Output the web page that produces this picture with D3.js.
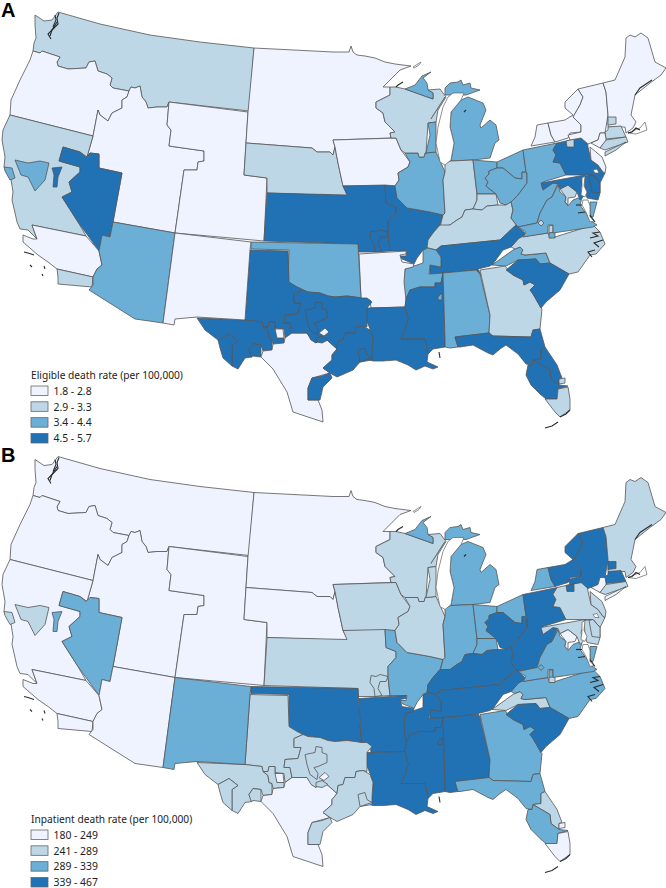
<!DOCTYPE html>
<html><head><meta charset="utf-8">
<script src="https://cdn.jsdelivr.net/npm/d3@7"></script>
<style>html,body{margin:0;padding:0;background:#fff}svg{display:block}text{font-family:"Noto Sans",sans-serif;fill:#222}</style>
</head><body><svg id="c" width="666" height="888"></svg>
<script>
// Class colours and legends
const palette = ["#eff3ff","#bdd7e7","#6baed6","#2171b5"];
const panelLetters = ["A","B"];
const legendTitles = ["Eligible death rate (per 100,000)","Inpatient death rate (per 100,000)"];
const legendLabelsA = ["1.8 - 2.8","2.9 - 3.3","3.4 - 4.4","4.5 - 5.7"];
const legendLabelsB = ["180 - 249","241 - 289","289 - 339","339 - 467"];

// Regions (map units), class in A, class in B, outline
const regionNames = ["wamt","or","idut","wyco","dakmn","nebr","iowa","ksmo","mo2","moe","ilw","wi","upw","upe","mil","mi","in","ine","cin","oh1","oh2","ky","ncw","nc","nc2","nc3","tn","memph","ar","ms","mss","la","al","ga","sc","fl","fl2","fl4","fl5","fl3","ok","tx1","tx2","tx2a","tx2b","tx3","txw","stx","tx4","tx5","tx6","tx7","tx8","tx9","tx10","ncal","nev","nev2","sac","sf","scal","sd","az","nm","pawv","va","vac","dc","phil","pa2","md","del","vaes","nj","nyw","nyc","vtny","me","box1","ma","ct","cte","li","del2"];
const classA = [1,0,0,0,0,1,0,3,3,3,2,1,2,2,2,2,1,2,1,2,2,1,2,1,1,2,3,2,0,3,2,3,2,1,3,3,3,3,1,1,2,3,3,3,3,3,0,0,3,3,0,3,3,3,3,1,3,3,2,2,0,1,2,0,2,2,1,1,3,1,3,3,2,0,0,0,0,0,1,1,0,1,1,3];
const classB = [0,0,0,0,0,0,1,1,1,2,1,1,2,2,1,2,2,2,2,2,3,3,1,2,2,1,3,3,3,3,3,3,3,2,3,2,1,2,0,0,3,1,1,1,1,1,0,0,1,1,0,1,1,1,1,0,2,2,1,1,0,0,0,2,3,2,2,0,1,3,1,1,2,1,2,3,3,1,3,3,0,1,0,1];
const outlines = [
"35,15 44,21 52,20 58,12 100,24 150,35 200,42 254,48 249,111 169,102 167,107 157,107 148,108 146,102 142,97 140,86 135,88 131,87 129,91 113,88 110,85 112,78 107,74 98,71 95,61 89,62 86,68 68,69 58,66 57,62 60,57 42,51 40,53 33,51 34,43 36,38 35,25",
"33,51 40,53 42,51 60,57 57,62 58,66 68,69 86,68 89,62 95,61 98,71 107,74 112,78 110,85 113,88 129,91 127,97 122,100 122,108 112,113 108,121 100,115 98,110 93,136 10,115 11,100 20,80 30,60",
"129,91 131,87 135,88 140,86 142,97 146,102 148,108 157,107 167,107 169,102 167,125 171,130 169,146 204,151 204,161 198,162 197,170 184,170 175,233 113,222 122,173 99,168 99,154 90,153 87,157 93,136 98,110 100,115 108,121 112,113 122,108 122,100 127,97",
"169,102 248,112 246,143 244,175 267,178 264,241 175,233 184,170 197,170 198,162 204,161 204,151 169,146 171,130 167,125",
"254,48 333,52 349,52 351,46 353,52 357,55 365,56 375,58 385,62 395,64 411,66 400,70 390,80 383,87 390,87 390,95 376,102 376,108 383,113 385,122 395,132 390,133 391,138 333,140 335,147 333,155 330,152 317,152 312,148 246,143 248,112",
"246,143 312,148 317,152 330,152 333,155 335,147 338,163 343,186 348,196 267,193 267,178 244,175",
"333,140 396,138 401,150 410,162 408,167 398,173 399,180 395,186 343,186 338,163 335,147",
"267,193 347,195 343,186 385,185 386,203 396,207 396,213 388,222 388,232 390,251 375,252 358,252 358,244 264,241",
"371,231 376,232 380,230 388,232 386,237 380,237 378,244 382,251 375,252 374,244 370,238",
"385,185 395,186 397,198 407,208 413,209 430,212 443,215 440,225 433,233 428,240 427,248 423,250 417,258 414,264 402,259 399,256 406,256 407,251 390,251 388,232 388,222 396,213 396,207 386,203",
"405,153 418,153 419,157 424,157 425,153 436,152 441,163 445,172 443,180 445,213 443,215 430,212 413,209 407,208 397,198 395,186 399,180 398,173 408,167 410,162",
"390,87 396,87 405,89 433,99 433,93 428,90 440,89 446,97 438,110 436,122 428,123 426,153 425,153 424,157 419,157 418,153 405,153 401,150 396,138 391,138 390,133 395,132 385,122 383,113 376,108 376,102 390,95",
"405,89 415,85 422,76 431,72 423,78 427,83 428,90 433,93 433,99",
"445,88 450,83 458,82 461,80 463,85 470,83 471,88 480,90 466,95 448,95 445,95",
"428,123 436,122 436,135 436,152 426,153 430,135",
"468,97 483,103 486,110 480,125 481,128 490,120 496,125 499,140 495,143 490,158 473,160 451,161 454,143 450,127 451,112 461,100",
"445,163 451,161 473,160 477,194 477,200 473,209 465,210 462,217 457,220 450,225 440,227 443,215 445,213 443,180 445,172",
"473,160 497,162 497,168 489,171 489,174 485,178 488,182 486,186 491,190 496,194 477,194",
"477,194 496,194 498,205 487,206 482,210 473,209 477,200",
"497,162 523,150 526,172 522,172 522,179 515,178 503,168 497,168",
"489,171 497,168 503,168 515,178 522,179 522,172 527,173 527,183 518,195 511,202 506,205 500,203 498,198 496,194 491,190 486,186 488,182 485,178 489,174",
"440,225 450,225 457,220 462,217 465,210 473,209 482,210 487,206 498,205 506,205 511,202 513,210 511,218 518,227 516,225 500,240 441,246 436,250 428,248 427,248 428,240 433,233",
"492,265 513,250 515,249 520,247 523,250 521,254 525,255 546,253 550,263 540,264 536,259 518,260 506,266",
"520,237 548,233 550,238 555,237 593,225 600,232 605,244 596,254 590,255 578,272 569,274 550,263 546,253 525,255 521,254 523,250 520,247 515,249 511,247 518,239",
"549,226 553,225 553,233 549,233",
"549,233 555,232 555,238 549,238",
"441,246 500,240 516,225 526,234 518,239 511,247 503,250 493,264 490,266 478,269 481,275 476,270 443,273 430,274 430,265 441,267 441,257 436,250",
"405,269 423,263 423,250 428,248 436,250 441,257 441,267 430,265 429,274 443,273 441,283 435,283 435,287 420,287 410,290 406,299 403,285",
"359,254 406,251 406,254 400,255 402,262 414,264 413,267 405,269 404,282 406,300 405,307 371,308 370,300 361,299",
"406,299 410,290 420,287 435,287 435,283 441,283 443,273 445,339 445,347 433,349 428,354 425,339 401,339 405,330 408,319 405,307",
"438,297 442,293 442,300 438,300",
"367,308 405,307 408,319 405,330 401,339 425,339 428,354 427,362 438,367 433,369 425,366 416,370 408,365 396,360 383,361 373,361 370,360 373,339 370,329 366,319",
"443,273 476,270 480,274 490,315 489,333 455,337 458,347 450,348 445,347 445,339",
"480,270 505,266 513,275 523,280 524,285 530,282 535,285 530,290 533,294 541,308 542,309 540,329 533,330 531,337 493,336 489,333 490,315",
"506,270 518,260 536,259 540,264 550,263 569,274 560,290 546,302 541,308 533,294 530,290 535,285 530,282 524,285 523,280 513,275",
"455,337 489,333 493,336 531,337 533,330 540,329 545,347 541,349 541,359 533,360 532,365 526,364 518,354 506,345 500,349 493,355 488,353 473,345 460,347 458,347",
"541,349 545,347 557,365 562,378 559,379 559,385 551,379 550,370 533,360 541,359",
"528,365 532,365 533,360 550,370 551,379 559,385 568,386 558,389 557,399 546,399 540,394 531,385 526,375",
"558,389 568,387 570,399 570,410 560,417 555,412 545,399 557,399",
"559,379 565,378 565,383 559,384",
"251,242 358,244 361,298 355,297 347,296 335,297 328,296 320,293 308,292 297,287 288,283 289,250 251,249",
"250,250 288,251 289,282 297,287 303,290 294,294 294,303 301,303 298,314 285,315 284,323 290,323 292,333 285,338 284,329 275,328 275,322 269,322 268,327 263,327 262,322 245,320",
"197,318 245,320 262,322 263,327 268,331 269,338 272,339 272,350 263,351 261,345 253,344 249,350 252,357 245,358 238,369 232,366 232,345 238,341 229,334 218,340 205,330",
"218,340 229,334 238,341 232,345 232,366 223,358 220,348",
"249,350 253,344 261,345 261,357 253,356 251,357",
"263,327 268,327 269,322 275,322 275,329 277,329 277,338 284,338 284,343 273,344 272,339 269,338 268,331",
"275,329 283,329 284,338 277,338",
"261,357 263,351 272,350 273,344 284,343 285,338 292,333 307,333 312,340 316,343 322,336 327,340 337,349 332,355 332,360 323,368 330,373 312,378 308,388 308,400 318,400 322,410 323,422 293,412 287,392 273,369 263,359",
"294,294 303,290 308,292 320,293 328,296 335,297 347,296 355,297 361,298 367,298 372,302 367,308 367,327 363,326 356,327 355,333 345,333 343,340 338,341 337,349 327,340 322,336 316,343 311,340 307,333 292,333 290,323 284,323 285,315 298,314 301,303 294,303",
"305,310 315,308 316,302 322,303 322,308 327,310 327,318 318,322 314,323 318,329 317,335 310,330 307,320",
"319,333 325,328 329,332 324,336",
"316,338 322,336 328,340 322,343 316,342",
"337,349 338,341 343,340 345,333 355,333 356,327 363,326 370,330 373,338 372,352 372,360 360,362 353,370 337,377 330,373 323,368 332,360 332,355",
"358,350 365,348 367,355 372,358 360,362",
"312,378 322,376 330,373 332,378 323,387 320,400 308,400 308,388",
"10,115 93,136 87,157 80,152 63,147 59,161 80,167 80,172 69,182 72,192 62,197 78,222 86,236 32,225 37,239 28,230 20,229 17,222 15,213 12,200 13,192 10,173 4,167 5,157 2,140 3,130",
"63,147 80,152 86,157 90,153 99,154 99,168 122,173 113,222 110,237 102,235 99,251 78,222 62,197 72,192 69,182 80,172 80,167 59,161",
"52,168 62,167 58,177 57,187 53,187 54,175",
"15,160 28,163 40,161 49,163 45,180 35,191 28,177 21,175",
"4,167 12,168 15,178 10,180 5,171",
"32,225 86,236 99,251 102,265 97,269 93,277 57,269 48,262 38,255 23,242 23,235 33,239 37,239",
"57,269 93,277 92,287 58,284 58,277",
"113,222 175,233 163,323 135,319 89,290 93,285 93,277 97,269 102,265 99,251 102,235 110,237",
"175,233 251,242 250,250 245,320 197,317 175,319 174,325 163,323",
"523,150 557,143 553,150 556,155 553,162 560,163 566,175 543,182 542,188 553,183 556,182 558,183 552,197 547,200 540,213 537,223 518,227 511,218 513,210 511,202 518,195 527,183 527,173 526,172",
"547,200 552,197 558,185 560,192 566,197 565,202 568,206 573,200 578,198 582,198 580,205 585,212 588,216 590,220 597,225 593,227 553,233 553,225 548,225 548,233 523,237 526,232 518,227 537,223 540,213",
"538,223 541,220 544,223 541,226",
"560,189 568,185 577,192 575,197 568,198 568,205 565,202 566,197",
"566,141 575,139 587,137 588,147 591,160 598,165 603,172 605,173 600,183 593,175 566,175 560,163 553,162 556,155 553,150 557,143",
"566,141 574,139 574,147 567,147",
"541,183 585,175 583,182 581,188 584,196 580,200 577,192 568,185 560,189 558,184 553,183 543,190",
"584,176 593,175 600,183 600,193 598,200 587,198 585,190",
"590,202 597,202 593,217 590,217",
"590,147 602,157 606,167 605,173 603,172 598,165 591,160",
"531,146 535,137 537,125 548,123 551,135 555,142",
"548,123 565,120 573,115 565,108 565,102 578,89 583,97 580,105 573,117 581,125 581,132 570,133 568,138 555,142 551,135",
"578,89 603,83 606,92 608,115 605,133 600,133 598,140 588,144 581,138 570,140 568,135 581,132 581,125 573,117 580,105 583,97",
"603,83 615,80 625,57 626,38 630,35 635,37 641,33 648,38 655,62 666,68 661,75 650,83 635,95 631,115 636,122 633,128 626,133 625,127 608,127 608,115 606,92",
"608,117 616,117 616,124 608,125",
"605,132 608,130 608,127 621,126 626,137 606,139",
"600,133 605,133 606,139 606,141 600,148 591,143 598,140",
"606,140 626,137 628,142 605,150 600,148",
"605,152 626,142 616,150 605,156",
"589,176 593,175 600,183 600,193 592,192"
];

// Water bodies drawn white over the land
const waterOutlines = [
"448,97 443,107 438,127 436,143 440,162 445,165 451,160 454,143 450,127 451,112 461,100 464,93 453,93",
"445,97 432,117 431,119 440,105",
"413,67 421,62 419,65 414,68",
"593,170 597,169 599,173 595,173",
"582,178 585,176 584,186 587,192 585,197 581,195 582,187",
"583,200 588,200 590,206 590,217 594,221 590,222 586,212 582,205",
"628,133 640,128 645,122 647,130 636,134"
];

// Dark fine coastline and island details
const coastDetails = [
"59,13 57,18 58,24 54,28 48,34 51,39",
"55,15 56,20 53,27",
"57,22 52,30 50,36",
"403,82 398,85 396,87",
"635,95 640,88 646,84 652,80",
"628,133 632,132 636,128 640,130",
"600,232 593,233 598,236 590,238",
"603,240 594,243 599,247",
"595,250 588,252 592,257",
"590,215 595,222",
"582,205 576,205",
"585,212 578,213",
"560,417 566,414 570,410",
"545,428 552,426 558,422",
"24,252 28,253 34,255",
"30,265 32,267",
"44,266 45,269",
"42,274 43,276",
"464,112 466,110",
"439,352 440,358"
];

// Map unit to page: same geometry in both panels
const panelOffsets = [0,444.5];
const toRing = s => s.split(" ").map(p => p.split(",").map(Number));
const closeRing = r => r.concat([r[0]]);
const svg = d3.select("#c");
const fillScale = d3.scaleOrdinal().domain([0,1,2,3]).range(palette);

panelOffsets.forEach((dy, pi) => {
  const path = d3.geoPath(d3.geoIdentity().translate([0, dy]));
  const classes = pi === 0 ? classA : classB;
  const features = outlines.map((s,i) => ({type:"Feature",properties:{name:regionNames[i],cls:classes[i]},
    geometry:{type:"Polygon",coordinates:[closeRing(toRing(s))]}}));
  const g = svg.append("g");
  g.selectAll("path.r").data(features).join("path").attr("class","r")
    .attr("d",path).attr("fill",d=>fillScale(d.properties.cls))
    .attr("stroke","#555").attr("stroke-width",0.8).attr("stroke-linejoin","round");
  g.selectAll("path.w").data(waterOutlines).join("path").attr("class","w")
    .attr("d",s=>path({type:"Polygon",coordinates:[closeRing(toRing(s))]}))
    .attr("fill","#fff").attr("stroke","#606060").attr("stroke-width",0.7);
  g.selectAll("path.c").data(coastDetails).join("path").attr("class","c")
    .attr("d",s=>path({type:"LineString",coordinates:toRing(s)}))
    .attr("fill","none").attr("stroke","#2a2a2a").attr("stroke-width",1.1);

  // Panel letter
  svg.append("text").attr("x",1).attr("y",17+dy).text(panelLetters[pi])
    .style("font-family","'Liberation Sans',sans-serif").style("font-weight",700).style("font-size","20px").style("fill","#000");

  // Legend
  const labels = pi === 0 ? legendLabelsA : legendLabelsB;
  const top = pi === 0 ? 379 : 823;
  const ly = d3.scalePoint().domain(labels).range([top+7, top+54.5]);
  svg.append("text").attr("x",31).attr("y",top).text(legendTitles[pi]).style("font-size","10.2px");
  const lg = svg.append("g").selectAll("g").data(labels).join("g");
  lg.append("rect").attr("x",31).attr("y",d=>ly(d)).attr("width",17).attr("height",9.5)
    .attr("fill",(d,i)=>palette[i]).attr("stroke","#666").attr("stroke-width",0.8);
  lg.append("text").attr("x",53.5).attr("y",d=>ly(d)+8.8).text(d=>d).style("font-size","10.4px");
});
</script></body></html>
